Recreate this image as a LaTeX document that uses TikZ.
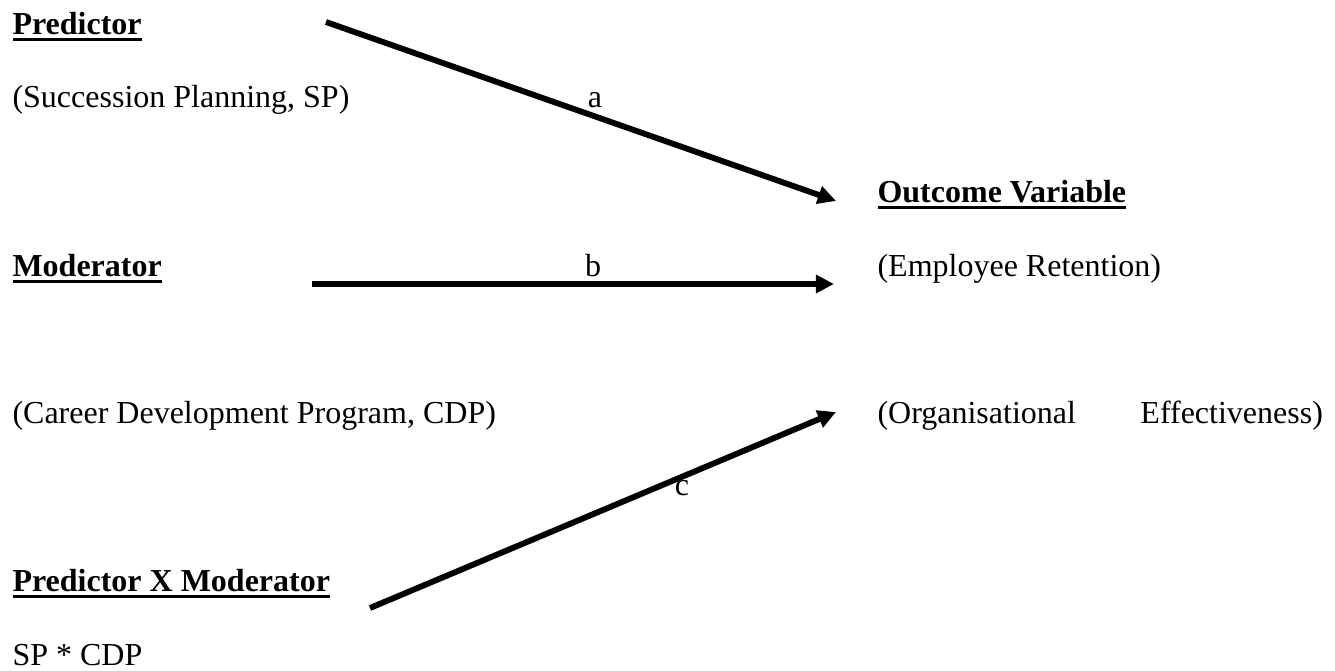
\documentclass[tikz,border=0pt]{standalone}
\usepackage{fontspec}
\setmainfont{Liberation Serif}
\usetikzlibrary{arrows.meta}

% Encabezado en negrita y subrayado
\newsavebox{\ulbox}
\newcommand{\ulhead}[1]{\sbox{\ulbox}{\textbf{#1}}\rlap{\rule[-2.25pt]{\wd\ulbox}{1.2pt}}\usebox{\ulbox}}

\begin{document}
\begin{tikzpicture}[x=0.375pt, y=-0.375pt,
    txt/.style={anchor=base west, inner sep=0pt, font=\fontsize{12}{14}\selectfont},
    lbl/.style={anchor=base, inner sep=0pt, font=\fontsize{12}{14}\selectfont},
    arr/.style={-{Triangle[length=6.8pt, width=6.6pt]}, line width=2.2pt}]
    % Marco del dibujo
    \useasboundingbox (0,0) rectangle (1335,671);

    % Columna izquierda
    \node[txt] (pred)    at (12,35)  {\ulhead{Predictor}};
    \node[txt] (predsub) at (12,108) {(Succession Planning, SP)};
    \node[txt] (mod)     at (12,277) {\ulhead{Moderator}};
    \node[txt] (modsub)  at (12,424) {(Career Development Program, CDP)};
    \node[txt] (inter)   at (12,592) {\ulhead{Predictor X Moderator}};
    \node[txt] (intsub)  at (12,665) {SP * CDP};

    % Columna derecha
    \node[txt] (out)     at (877,203) {\ulhead{Outcome Variable}};
    \node[txt] (outret)  at (877,277) {(Employee Retention)};
    \node[txt] (outeff)  at (877,424) {\makebox[167pt][s]{(Organisational Effectiveness)}};

    % Extremos de las flechas
    \coordinate (aS) at (326,22);
    \coordinate (aE) at (836,201);
    \coordinate (bS) at (312,284);
    \coordinate (bE) at (834,284);
    \coordinate (cS) at (370,608);
    \coordinate (cE) at (836,412);

    % Dibujar las flechas a, b y c
    \draw[arr] (aS) -- (aE);
    \draw[arr] (bS) -- (bE);
    \draw[arr] (cS) -- (cE);

    % Etiquetas de las flechas
    \node[lbl] (la) at (595,108) {a};
    \node[lbl] (lb) at (593,277) {b};
    \node[lbl] (lc) at (682,496) {c};
\end{tikzpicture}
\end{document}
